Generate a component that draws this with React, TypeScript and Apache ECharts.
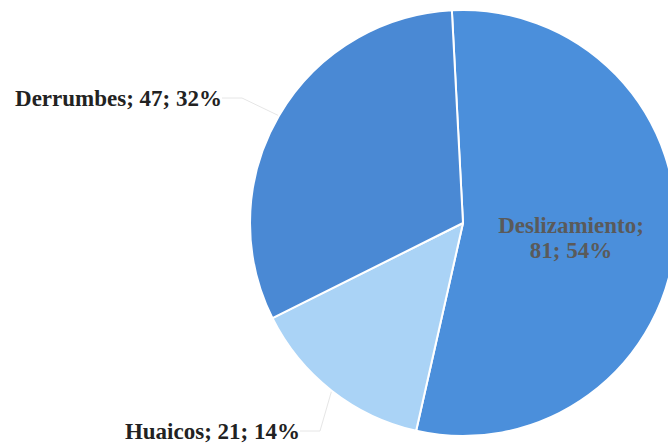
import React, { useEffect, useRef } from "react";
import * as echarts from "echarts";

const categories = ["Deslizamiento", "Huaicos", "Derrumbes"];
const values = [81, 21, 47];
const percents = ["54%", "14%", "32%"];
const colors = ["#4b8fdb", "#aad3f6", "#4a89d4"];

export default function App() {
  const ref = useRef<HTMLDivElement>(null);
  useEffect(() => {
    document.body.style.margin = "0";
    const chart = echarts.init(ref.current!, null, { renderer: "svg" });
    const data = categories.map((name, i) => ({
      name,
      value: values[i],
      itemStyle: { color: colors[i] },
      label:
        i === 0
          ? {
              position: "inside",
              fontSize: 23,
              color: "#5a5a5a",
              lineHeight: 25,
              formatter: () => `${name};\n${values[i]}; ${percents[i]}`,
            }
          : {
              position: "outside",
              fontSize: 23,
              color: "#222222",
              formatter: () => `${name}; ${values[i]}; ${percents[i]}`,
            },
      labelLine: i === 0 ? { show: false } : { show: true },
    }));
    chart.setOption({
      animation: false,
      backgroundColor: "#ffffff",
      series: [
        {
          type: "pie",
          center: [463, 223],
          radius: 213,
          startAngle: 93,
          clockwise: true,
          data,
          itemStyle: { borderColor: "#ffffff", borderWidth: 2 },
          label: {
            fontFamily: "Liberation Serif",
            fontWeight: "bold",
          },
          labelLine: { lineStyle: { color: "#e6e6e6", width: 1 }, length: 20, length2: 20 },
          labelLayout: (p: any) => {
            if (p.dataIndex === 2) {
              return { x: 222, y: 98, align: "right", verticalAlign: "middle" };
            }
            if (p.dataIndex === 1) {
              return { x: 300, y: 431, align: "right", verticalAlign: "middle" };
            }
            return { x: 571, y: 238, align: "center", verticalAlign: "middle" };
          },
        },
      ],
    });
    return () => chart.dispose();
  }, []);
  return <div ref={ref} style={{ position: "fixed", left: 0, top: 0, width: 668, height: 445 }} />;
}
